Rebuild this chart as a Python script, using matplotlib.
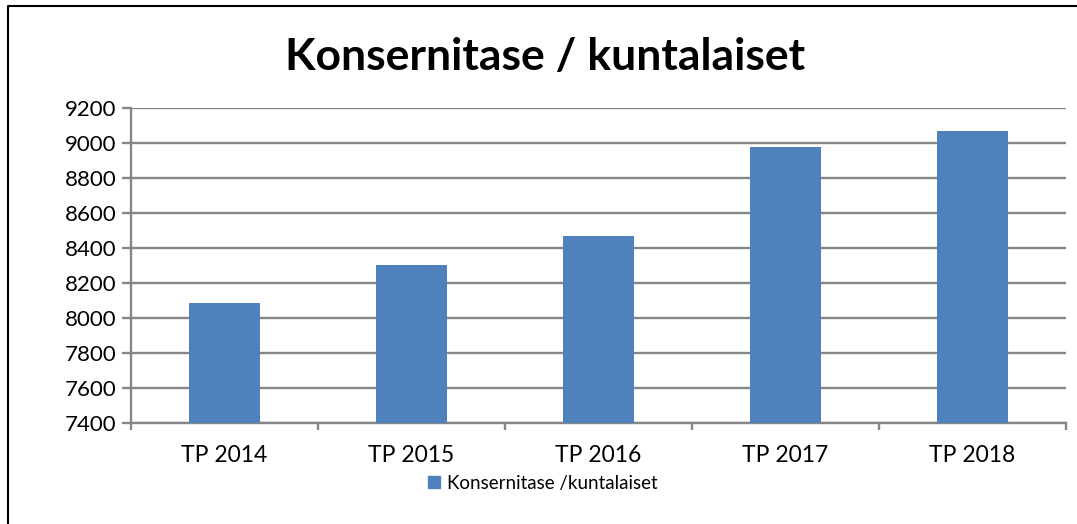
import matplotlib.pyplot as plt
from matplotlib.lines import Line2D
from matplotlib.patches import Patch

categories = ["TP 2014", "TP 2015", "TP 2016", "TP 2017", "TP 2018"]
values = [8088, 8303, 8470, 8975, 9070]
series_name = "Konsernitase /kuntalaiset"
title = "Konsernitase / kuntalaiset"
yticks = [7400, 7600, 7800, 8000, 8200, 8400, 8600, 8800, 9000, 9200]

BAR = "#4F81BD"
GRID = "#868686"
plt.rcParams["font.family"] = ["Lato", "DejaVu Sans"]

fig = plt.figure(figsize=(10.77, 5.24), dpi=100)
ax = fig.add_axes([131 / 1077, 101 / 524, 935 / 1077, 315 / 524])

x = list(range(len(categories)))
ax.bar(x, values, width=0.38, color=BAR, zorder=3)
ax.set_ylim(7400, 9200)
ax.set_xlim(-0.5, len(categories) - 0.5)
ax.set_yticks(yticks)
ax.tick_params(axis="y", labelsize=16, length=6.5, width=1.7, color=GRID, pad=4)
ax.yaxis.grid(True, color=GRID, lw=1.7, zorder=0)

# category boundaries get tick marks, labels sit between them
ax.set_xticks([i - 0.5 for i in range(len(categories) + 1)])
ax.set_xticklabels([])
ax.set_xticks(x, minor=True)
ax.set_xticklabels(categories, minor=True)
ax.tick_params(axis="x", which="major", length=5, width=1.7, color=GRID, direction="out")
ax.tick_params(axis="x", which="minor", length=0, labelsize=16.5, pad=16)

for s in ["top", "right"]:
    ax.spines[s].set_visible(False)
for s in ["left", "bottom"]:
    ax.spines[s].set_color(GRID)
    ax.spines[s].set_linewidth(1.7)

fig.text(545 / 1077, 1 - 57 / 524, title, ha="center", va="center",
         fontsize=32, fontweight="bold")

fig.legend(handles=[Patch(color=BAR, label=series_name)], loc="center",
           bbox_to_anchor=(543 / 1077, 1 - 483 / 524), frameon=False,
           fontsize=13.5, handlelength=0.6, handleheight=0.6, handletextpad=0.4)

# chart frame (left and top edges visible)
fx, fy = 8 / 1077, 1 - 6 / 524
fig.add_artist(Line2D([fx, fx, 1], [0, fy, fy], color="black", lw=1.5,
                      transform=fig.transFigure))

fig.savefig("out.png", dpi=100)
